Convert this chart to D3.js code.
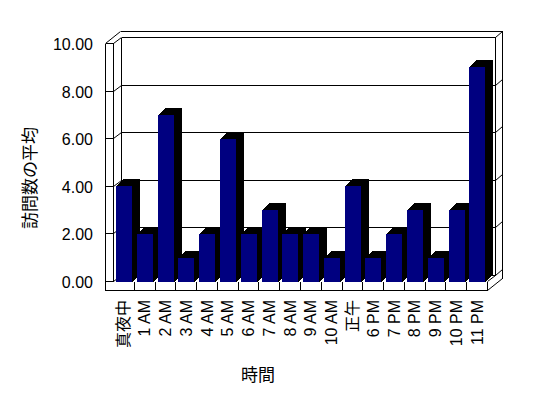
<!DOCTYPE html>
<html>
<head>
<meta charset="utf-8">
<script src="https://cdn.jsdelivr.net/npm/d3@7.9.0/dist/d3.min.js"></script>
<style>
  body { margin: 0; background: #fff; }
  text { font-family: "Liberation Sans", "Noto Sans CJK JP", sans-serif; fill: #000; }
</style>
</head>
<body>
<div id="chart"></div>
<script>
const categories = ['真夜中', '1 AM', '2 AM', '3 AM', '4 AM', '5 AM', '6 AM', '7 AM', '8 AM',
  '9 AM', '10 AM', '正午', '6 PM', '7 PM', '8 PM', '9 PM', '10 PM', '11 PM'];
const visits = [4, 2, 7, 1, 2, 6, 2, 3, 2, 2, 1, 4, 1, 2, 3, 1, 3, 9];
const yTicks = [0, 2, 4, 6, 8, 10];
const yTitle = '訪問数の平均';
const xTitle = '時間';

const svg = d3.select('#chart').append('svg')
  .attr('width', 548)
  .attr('height', 398);

svg.append('rect').attr('width', 548).attr('height', 398).attr('fill', '#fff');

const x = d3.scaleBand()
  .domain(categories)
  .range([113.5, 487.5])
  .paddingInner(0.25)
  .paddingOuter(0.125);
const y = d3.scaleLinear().domain([0, 10]).range([281.5, 43.5]);

// 3d offsets (oblique projection)
const left = x.range()[0];
const right = x.range()[1];
const step = x.step();
const wall = 8;       // left wall thickness
const floorH = 9;     // floor thickness
const dep = [8, -6];  // interior depth
const bk = [7, -6];   // back wall thickness
const bar = [8, -7];  // bar depth

// keep 1px lines on pixel centres
const snap = (v) => Math.round(v - 0.5) + 0.5;

const frame = svg.append('g')
  .attr('stroke', '#000')
  .attr('stroke-width', 1)
  .attr('fill', 'none');

function line(x1, y1, x2, y2) {
  const l = frame.append('line')
    .attr('x1', snap(x1)).attr('y1', snap(y1))
    .attr('x2', snap(x2)).attr('y2', snap(y2));
  if (snap(x1) === snap(x2) || snap(y1) === snap(y2)) l.attr('shape-rendering', 'crispEdges');
}

const y0 = y(0);
const yT = y(d3.max(yTicks));
const outL = left - wall;

// left wall front face
line(outL, yT, outL, y0 + floorH);
line(left, yT, left, y0);
// left wall / back wall tops
line(outL, yT, outL + dep[0] + bk[0], yT + dep[1] + bk[1]);
line(outL + dep[0] + bk[0], yT + dep[1] + bk[1], right + dep[0] + bk[0], yT + dep[1] + bk[1]);
// verticals at the back
line(left + dep[0], yT + dep[1], left + dep[0], y0 + dep[1]);
line(right + dep[0], yT + dep[1], right + dep[0], y0 + dep[1]);
line(right + dep[0] + bk[0], yT + dep[1] + bk[1], right + dep[0] + bk[0], y0 + floorH + dep[1] + bk[1]);
// floor
line(outL, y0 + floorH, right, y0 + floorH);
line(right, y0, right, y0 + floorH);
line(right, y0, right + dep[0], y0 + dep[1]);
line(right, y0 + floorH, right + dep[0] + bk[0], y0 + floorH + dep[1] + bk[1]);

// gridlines and ticks across the wall face
yTicks.forEach((t) => {
  const yy = y(t);
  line(outL, yy, left, yy);
  line(left, yy, left + dep[0], yy + dep[1]);
  line(left + dep[0], yy + dep[1], right + dep[0], yy + dep[1]);
  line(right + dep[0], yy + dep[1], right + dep[0] + bk[0], yy + dep[1] + bk[1]);
});

// category dividers on the floor front
categories.slice(1).forEach((c, i) => {
  const xx = left + (i + 1) * step;
  line(xx, y0, xx, y0 + floorH);
});

// bars
const bars = svg.append('g').attr('shape-rendering', 'crispEdges');
categories.forEach((c, i) => {
  const bx = Math.round(x(c));
  const bw = Math.round(x.bandwidth());
  const top = Math.round(y(visits[i]));
  const base = Math.round(y0);
  const pts = [
    [bx + bw, base], [bx + bw, top], [bx, top],
    [bx + bar[0], top + bar[1]], [bx + bw + bar[0], top + bar[1]],
    [bx + bw + bar[0], base + bar[1]]
  ];
  bars.append('polygon')
    .attr('points', pts.map((p) => p.join(',')).join(' '))
    .attr('fill', '#000');
  bars.append('rect')
    .attr('x', bx)
    .attr('y', top)
    .attr('width', bw)
    .attr('height', base - top)
    .attr('fill', '#000080');
});

// y labels
svg.append('g').selectAll('text')
  .data(yTicks)
  .join('text')
  .attr('x', 93)
  .attr('y', (d) => y(d) + 1)
  .attr('text-anchor', 'end')
  .attr('dominant-baseline', 'central')
  .attr('font-size', 16)
  .text((d) => d3.format('.2f')(d));

// x labels
svg.append('g').selectAll('text')
  .data(categories)
  .join('text')
  .attr('transform', (d) => `translate(${x(d) + x.bandwidth() / 2},300) rotate(-90)`)
  .attr('text-anchor', 'end')
  .attr('dominant-baseline', 'central')
  .attr('font-size', 16)
  .text((d) => d);

svg.append('text')
  .attr('transform', 'translate(30,178) rotate(-90)')
  .attr('text-anchor', 'middle')
  .attr('dominant-baseline', 'central')
  .attr('font-size', 17)
  .text(yTitle);

svg.append('text')
  .attr('x', 258)
  .attr('y', 375)
  .attr('text-anchor', 'middle')
  .attr('dominant-baseline', 'central')
  .attr('font-size', 17)
  .text(xTitle);
</script>
</body>
</html>
